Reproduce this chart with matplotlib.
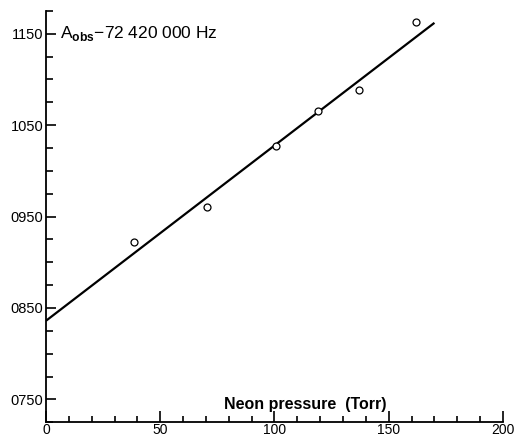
import matplotlib
matplotlib.use("Agg")
import matplotlib.pyplot as plt
from matplotlib.ticker import MultipleLocator, FixedLocator

plt.rcParams['font.family'] = ['Liberation Sans', 'DejaVu Sans']
plt.rcParams['mathtext.fontset'] = 'custom'
plt.rcParams['mathtext.rm'] = 'Liberation Sans'
plt.rcParams['mathtext.bf'] = 'Liberation Sans:bold'

# Data
pressure = [38.5, 70.6, 100.7, 119.2, 137.0, 162.0]
a_obs = [922.7, 960.4, 1026.8, 1065.8, 1089.0, 1163.0]
fit_x = [0, 170]
fit_y = [836, 1162]
y_ticks = [750, 850, 950, 1050, 1150]
y_labels = ['0750', '0850', '0950', '1050', '1150']
x_ticks = [0, 50, 100, 150, 200]
x_labels = ['0', '50', '100', '150', '200']

fig = plt.figure(figsize=(5.16, 4.38), dpi=100)
ax = fig.add_axes([0.0891, 0.036, 0.9748 - 0.0891, 0.975 - 0.036])

ax.plot(fit_x, fit_y, color='black', lw=1.6, solid_capstyle='butt')
ax.plot(pressure, a_obs, 'o', mfc='white', mec='black', ms=5, mew=0.9)

ax.set_xlim(0, 200)
ax.set_ylim(725, 1175)
for s in ['top', 'right']:
    ax.spines[s].set_visible(False)
for s in ['left', 'bottom']:
    ax.spines[s].set_linewidth(1.3)

ax.xaxis.set_major_locator(FixedLocator(x_ticks))
ax.set_xticklabels(x_labels)
ax.xaxis.set_minor_locator(MultipleLocator(10))
ax.yaxis.set_major_locator(FixedLocator(y_ticks))
ax.set_yticklabels(y_labels)
ax.yaxis.set_minor_locator(MultipleLocator(25))

ax.tick_params(axis='both', which='both', direction='in', width=1.2, labelsize=10.5)
ax.tick_params(axis='x', which='major', length=8, pad=0.5, labelsize=10)
ax.tick_params(axis='x', which='minor', length=4)
ax.tick_params(axis='y', which='major', length=7, pad=2)
ax.tick_params(axis='y', which='minor', length=5)

ax.text(6, 1150, r'A$_{\mathbf{obs}}$−72 420 000 Hz', fontsize=12.5, va='center', ha='left')
ax.text(78, 736, 'Neon pressure  (Torr)', fontsize=11.5, fontweight='bold', va='bottom', ha='left')

fig.savefig('out.png', dpi=100)
